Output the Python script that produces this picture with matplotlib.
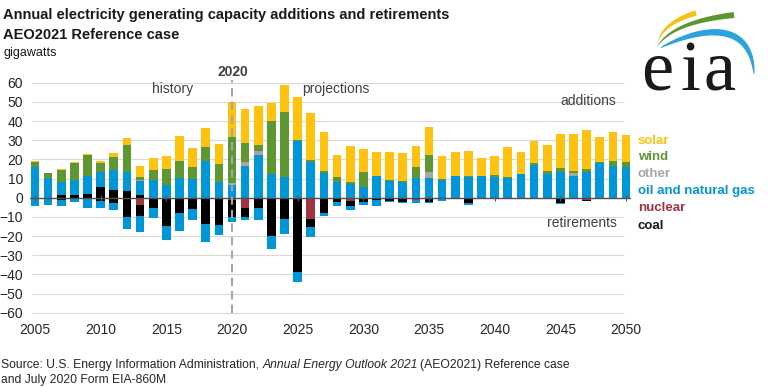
import numpy as np
import matplotlib
matplotlib.use("Agg")
import matplotlib.pyplot as plt
from matplotlib.patches import Polygon
from matplotlib import font_manager
from math import comb

W, H = 768, 387

years = list(range(2005, 2051))

# additions (GW)
coal_add = [0, 0, 1.4, 1.2, 1.9, 5.4, 4.0, 3.7, 1.2, 0, 0, 0, 0, 0, 0, 0,
            0, 0, 0, 0, 0, 0, 0, 0, 0, 0, 0, 0, 0, 0, 0, 0, 0, 0, 0, 0,
            0, 0, 0, 0, 0, 0, 0, 0, 0, 0]
gas_add = [16.2, 10.1, 6.9, 8.2, 9.4, 7.8, 10.4, 9.9, 7.5, 9.2, 6.6, 10.1, 9.7, 19.3, 8.0, 6.6,
           16.5, 22.4, 12.3, 11.0, 29.6, 18.8, 12.7, 8.0, 7.0, 5.5, 11.4, 8.7, 8.0, 10.1,
           10.1, 9.0, 11.5, 10.8, 11.3, 11.0, 10.1, 12.2, 17.0, 12.3, 13.6, 11.5, 13.2, 17.9, 16.7, 15.8]
other_add = [0, 0, 0, 0, 0, 0, 0, 0, 0.6, 0, 0, 0, 0, 0, 0, 0.9,
             2.3, 1.9, 0, 0, 0, 0, 0, 0, 0, 0, 0, 0, 0, 0,
             3.1, 0, 0, 0, 0, 0, 0, 0, 0, 0, 0, 1.5, 0, 0, 0, 0]
wind_add = [2.2, 2.9, 6.0, 8.7, 10.8, 4.9, 6.6, 14.1, 1.3, 5.2, 8.5, 9.2, 6.5, 7.3, 9.6, 24.2,
            9.5, 3.2, 27.7, 33.9, 0.3, 0.9, 1.0, 2.8, 1.0, 8.1, 0, 0.5, 0.7, 5.9,
            9.1, 0.7, 0, 0.7, 0, 0.8, 0.9, 0, 1.3, 1.6, 2.1, 0.7, 1.8, 0.5, 2.4, 2.6]
solar_add = [0.7, 0, 0.5, 0.5, 0.7, 1.2, 2.5, 3.6, 5.7, 6.1, 6.8, 12.7, 9.9, 9.7, 10.6, 18.2,
             17.8, 20.5, 9.6, 14.0, 22.7, 24.3, 20.5, 11.5, 19.0, 11.8, 12.3, 14.4, 14.4, 11.0,
             14.7, 12.2, 12.2, 12.8, 9.6, 10.1, 15.3, 11.5, 11.3, 13.6, 17.3, 19.7, 20.5, 13.3, 15.2, 14.3]

# retirements (GW, shown below zero)
nuclear_ret = [0, 0, 0, 0, 0, 0, 0, 0, 3.6, 0.6, 0, 0, 0, 0.6, 0.9, 1.0,
               5.6, 0.9, 0, 0, 0, 11.0, 0.5, 0, 1.7, 0, 0, 0, 0.7, 1.4,
               0, 0.3, 0, 0, 0, 0, 0, 0, 0, 0, 0, 0, 1.0, 0, 0, 0]
coal_ret = [0.3, 0.7, 1.2, 0.9, 0.5, 1.6, 2.6, 10.2, 5.8, 4.7, 14.6, 8.2, 5.9, 13.1, 13.4, 8.9,
            4.7, 4.3, 19.8, 11.1, 39.0, 4.4, 7.3, 2.1, 2.5, 2.4, 1.0, 1.7, 1.4, 0,
            2.1, 0, 0, 3.0, 0, 0.3, 0, 0, 0, 0, 2.6, 0, 0.6, 0, 0, 0]
gas_ret = [3.8, 3.1, 3.1, 1.5, 5.1, 3.6, 3.8, 6.0, 8.3, 5.4, 7.5, 9.4, 5.9, 9.3, 5.0, 2.6,
           1.4, 6.5, 7.0, 7.9, 4.8, 5.3, 1.7, 2.1, 2.2, 1.4, 3.2, 0.7, 0.9, 1.2,
           0.9, 1.2, 0.7, 0.8, 0.5, 0.5, 0.3, 0.3, 0.3, 0.3, 0.5, 0.3, 0.3, 0.3, 0.3, 0.3]

COL_SOLAR = "#FFC20E"
COL_WIND = "#5D9732"
COL_OTHER = "#A6A6A6"
COL_GAS = "#0096D7"
COL_NUC = "#A33340"
COL_COAL = "#000000"

names = {f.name for f in font_manager.fontManager.ttflist}
NARROW = "Liberation Sans Narrow" if "Liberation Sans Narrow" in names else "Liberation Sans"
plt.rcParams["font.family"] = ["Liberation Sans", "DejaVu Sans"]

fig = plt.figure(figsize=(W / 100, H / 100), dpi=100)


def fxy(x, y):
    return x / W, 1 - y / H


# axes geometry (pixels)
ax_left, ax_right = 30, 631
y_top_px, y_bot_px = 78.9, 316.5
ax = fig.add_axes([ax_left / W, 1 - y_bot_px / H, (ax_right - ax_left) / W, (y_bot_px - y_top_px) / H])
ppy = (626 - 35) / 45.0
x0 = 2005 - (35 - ax_left) / ppy
x1 = 2005 + (ax_right - 35) / ppy
ax.set_xlim(x0, x1)
ax.set_ylim(-62, 62)
for s in ax.spines.values():
    s.set_visible(False)

yt = list(range(-60, 61, 10))
gx0 = 2005 + (32 - 35) / ppy
gx1 = 2005 + (624 - 35) / ppy
ax.hlines(yt, gx0, gx1, colors="#D9D9D9", lw=0.8, zorder=0)

bw = 0.66
yrs = np.array(years)
bottom = np.zeros(len(years))
for vals, col in [(coal_add, COL_COAL), (gas_add, COL_GAS), (other_add, COL_OTHER),
                  (wind_add, COL_WIND), (solar_add, COL_SOLAR)]:
    v = np.array(vals, float)
    ax.bar(yrs, v, bw, bottom=bottom, color=col, linewidth=0, zorder=2)
    bottom = bottom + v
bottom = np.zeros(len(years))
for vals, col in [(nuclear_ret, COL_NUC), (coal_ret, COL_COAL), (gas_ret, COL_GAS)]:
    v = -np.array(vals, float)
    ax.bar(yrs, v, bw, bottom=bottom, color=col, linewidth=0, zorder=2)
    bottom = bottom + v

ax.axhline(0, color="#5A4A4A", lw=1.0, zorder=3)
t5 = list(range(2005, 2051, 5))
ax.plot(t5, [0] * len(t5), linestyle="none", marker="|", ms=5, mew=0.8, color="#595959", zorder=3)

ax.vlines(2020, -60.4, 61.5, colors="#A6A6A6", linestyles=(0, (4, 2.5)), lw=1.5, zorder=4, clip_on=False)

ax.set_yticks(yt)
ax.set_xticks(t5)
ax.tick_params(length=0, labelsize=10, colors="#262626")
ax.tick_params(axis="y", pad=5)
ax.tick_params(axis="x", pad=5)
for lab in ax.get_xticklabels() + ax.get_yticklabels():
    lab.set_family([NARROW, "Liberation Sans"])

# titles
fig.text(*fxy(3, 15), "Annual electricity generating capacity additions and retirements",
         ha="left", va="center", fontsize=10.5, fontweight="bold", color="#1A1A1A")
fig.text(*fxy(3, 35), "AEO2021 Reference case",
         ha="left", va="center", fontsize=10.5, fontweight="bold", color="#1A1A1A")
fig.text(*fxy(3, 53), "gigawatts", ha="left", va="center", fontsize=9, color="#1A1A1A")

# annotations
fig.text(*fxy(233, 72), "2020", ha="center", va="center", fontsize=10, fontweight="bold", color="#404040")
fig.text(*fxy(173, 89), "history", ha="center", va="center", fontsize=10, color="#404040")
fig.text(*fxy(336, 89), "projections", ha="center", va="center", fontsize=10, color="#404040")
fig.text(*fxy(588, 101), "additions", ha="center", va="center", fontsize=10, color="#404040")
fig.text(*fxy(582, 223), "retirements", ha="center", va="center", fontsize=10, color="#404040")

# legend labels
leg = [("solar", COL_SOLAR, 141), ("wind", COL_WIND, 157), ("other", COL_OTHER, 174),
       ("oil and natural gas", COL_GAS, 191), ("nuclear", COL_NUC, 208), ("coal", "#1A1A1A", 226)]
for txt, col, yy in leg:
    fig.text(*fxy(638, yy), txt, ha="left", va="center", fontsize=9.5, fontweight="bold", color=col)

# source line with italic part
fig.canvas.draw()
rend = fig.canvas.get_renderer()
src_kw = dict(fontsize=8.75, color="#262626", va="center", ha="left", family=[NARROW, "Liberation Sans"])
t1 = fig.text(*fxy(1, 365), "Source: U.S. Energy Information Administration, ", **src_kw)
bb = t1.get_window_extent(rend)
t2 = fig.text(bb.x1 / W, 1 - 365 / H, "Annual Energy Outlook 2021", style="italic", **src_kw)
bb2 = t2.get_window_extent(rend)
fig.text(bb2.x1 / W + 2 / W, 1 - 365 / H, "(AEO2021) Reference case", **src_kw)
fig.text(*fxy(1, 380), "and July 2020 Form EIA-860M", **src_kw)


# eia logo
def bez(pts, t):
    pts = np.asarray(pts, float)
    n = len(pts) - 1
    out = np.zeros((len(t), 2))
    for i in range(n + 1):
        out += comb(n, i) * ((1 - t) ** (n - i))[:, None] * (t ** i)[:, None] * pts[i]
    return out


def swoosh(pts, wfun, color):
    t = np.linspace(0, 1, 80)
    c = bez(pts, t)
    d = np.gradient(c, axis=0)
    nrm = np.column_stack([-d[:, 1], d[:, 0]])
    nrm /= np.linalg.norm(nrm, axis=1)[:, None]
    w = wfun(t) / 2
    a = c + nrm * w[:, None]
    b = c - nrm * w[:, None]
    poly = np.vstack([a, b[::-1]])
    pf = np.column_stack([poly[:, 0] / W, 1 - poly[:, 1] / H])
    fig.add_artist(Polygon(pf, closed=True, transform=fig.transFigure, facecolor=color, edgecolor="none"))


swoosh([(658, 42), (663, 23), (696, 13)], lambda t: 5.5 * t ** 0.8, "#F5C211")
swoosh([(657, 47), (672, 22), (734, 15)], lambda t: 6.0 * t ** 0.8, "#5D9732")
swoosh([(660, 48), (705, 25), (752, 22), (754, 75)], lambda t: 6.5 * np.sin(np.pi * t) ** 0.6, "#2BA3DD")

for ch, cx in [("e", 657), ("i", 691), ("a", 720)]:
    fig.text(cx / W, 1 - 90 / H, ch, ha="center", va="baseline", fontsize=52,
             family=["Liberation Serif", "DejaVu Serif"], color="#1A1A1A")

fig.savefig("out.png", dpi=100)
